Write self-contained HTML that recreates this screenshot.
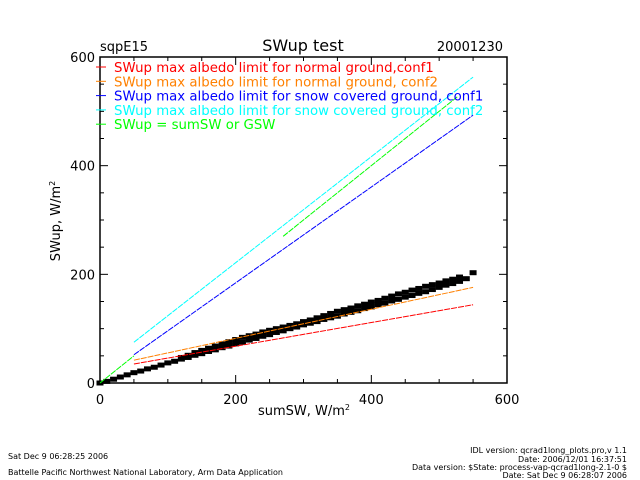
<!DOCTYPE html>
<html><head><meta charset="utf-8"><style>
body{margin:0;background:#fff;width:640px;height:480px;overflow:hidden}
svg{display:block;font-family:"DejaVu Sans","Liberation Sans",sans-serif}
</style></head><body>
<svg id="chart" width="640" height="480">
<text x="100" y="51" font-size="13">sqpE15</text>
<text x="303" y="51" font-size="16" text-anchor="middle">SWup test</text>
<text x="503" y="51" font-size="13" text-anchor="end">20001230</text>
<g id="plot"></g>
<g id="legend" font-size="13.3"></g>
<text x="304" y="415" font-size="13" text-anchor="middle">sumSW, W/m<tspan dy="-5" font-size="8">2</tspan></text>
<text transform="translate(60,221) rotate(-90)" font-size="13" text-anchor="middle">SWup, W/m<tspan dy="-5" font-size="8">2</tspan></text>
<g font-size="8">
<text x="8" y="459">Sat Dec  9 06:28:25 2006</text>
<text x="8" y="475">Battelle Pacific Northwest National Laboratory, Arm Data Application</text>
</g>
<g font-size="8" text-anchor="end">
<text x="627" y="453">IDL version: qcrad1long_plots.pro,v 1.1</text>
<text x="627" y="462">Date: 2006/12/01 16:37:51</text>
<text x="627" y="470">Data version: $State: process-vap-qcrad1long-2.1-0 $</text>
<text x="627" y="478">Date: Sat Dec  9 06:28:07 2006</text>
</g>
</svg>
<script>
const xTicks=[0,200,400,600];
const yTicks=[0,200,400,600];
const lineX=[50,550];
const redY=[35,144];
const orangeY=[42,176];
const blueY=[52,493];
const cyanY=[75,563];
const greenX=[0,50,270,527];
const lowX=[0,10,20,30,40,50,60,70,80,90,100,110,120,130,140,150,160,170,180,190,200,210,220,230,240,250,260,270,280,290,300,310,320,330,340,350,360,370,380,390,400,410,420,430,440,450,460,470,480,490,500,510,520,530,540];
const lowY=[0,3,7,11,15,19,22,26,29,33,37,40,44,47,51,54,58,61,65,68,72,75,79,82,86,89,93,96,100,103,107,110,113,117,120,123,127,130,133,137,140,144,147,151,154,158,161,165,168,172,176,180,183,187,192];
const upX=[120,130,140,150,160,170,180,190,200,210,220,230,240,250,260,270,280,290,300,310,320,330,340,350,360,370,380,390,400,410,420,430,440,450,460,470,480,490,500,510,520,530];
const upY=[47,51,56,60,64,68,72,76,80,84,87,90,94,97,100,103,106,109,113,116,120,124,128,132,135,138,142,145,149,152,156,160,164,167,171,174,178,181,184,188,191,195];
const outX=[550];
const outY=[203];
const legendLabels=["SWup max albedo limit for normal ground,conf1","SWup max albedo limit for normal ground, conf2","SWup max albedo limit for snow covered ground, conf1","SWup max albedo limit for snow covered ground, conf2","SWup = sumSW or GSW"];
const legendColors=["#ff0000","#ff8000","#0000ff","#00ffff","#00ff00"];

const L=100,R=507,T=57,B=383;
const sx=v=>L+(v-0)/600*(R-L);
const sy=v=>B-(v-0)/600*(B-T);
const NS="http://www.w3.org/2000/svg";
const plot=document.getElementById('plot');
function mk(tag,attrs,parent){const e=document.createElementNS(NS,tag);for(const k in attrs)e.setAttribute(k,attrs[k]);(parent||plot).appendChild(e);return e;}

const frame=mk('rect',{x:L,y:T,width:R-L,height:B-T,fill:'none',stroke:'#000','stroke-width':1.5});


for(let v=0;v<=600;v+=50){
  const major=v%200===0, len=major?8:4;
  mk('line',{x1:sx(v),x2:sx(v),y1:B,y2:B-len,stroke:'#000'});
  mk('line',{x1:sx(v),x2:sx(v),y1:T,y2:T+len,stroke:'#000'});
  mk('line',{x1:L,x2:L+len,y1:sy(v),y2:sy(v),stroke:'#000'});
  mk('line',{x1:R,x2:R-len,y1:sy(v),y2:sy(v),stroke:'#000'});
}
xTicks.forEach(v=>{const t=mk('text',{x:sx(v),y:B+21,'font-size':13,'text-anchor':'middle'});t.textContent=v;

});
yTicks.forEach(v=>{const t=mk('text',{x:L-5,y:sy(v)+5,'font-size':13,'text-anchor':'end'});t.textContent=v;

});

function pts(xs,ys,name){xs.forEach((x,i)=>{const r=mk('rect',{x:sx(x)-3.5,y:sy(ys[i])-2.5,width:7,height:5,fill:'#000'});

});}
pts(lowX,lowY,'point-lower');
pts(upX,upY,'point-upper');
pts(outX,outY,'point-outlier');

function line(xs,ys,color,name){const l=mk('line',{x1:sx(xs[0]),y1:sy(ys[0]),x2:sx(xs[1]),y2:sy(ys[1]),stroke:color,'stroke-width':1,'stroke-dasharray':'6 1'});

}
line(lineX,redY,legendColors[0],'line-normal-conf1');
line(lineX,orangeY,legendColors[1],'line-normal-conf2');
line(lineX,blueY,legendColors[2],'line-snow-conf1');
line(lineX,cyanY,legendColors[3],'line-snow-conf2');
line([greenX[0],greenX[1]],[greenX[0],greenX[1]],legendColors[4],'line-equal-a');
line([greenX[2],greenX[3]],[greenX[2],greenX[3]],legendColors[4],'line-equal-b');

const lg=document.getElementById('legend');
legendLabels.forEach((s,i)=>{const y=67+i*14.3;
const m=mk('line',{x1:96,x2:106,y1:y,y2:y,stroke:legendColors[i]},lg);


const t=mk('text',{x:114,y:y+5,fill:legendColors[i]},lg);t.textContent=s;

});
</script>
</body></html>
